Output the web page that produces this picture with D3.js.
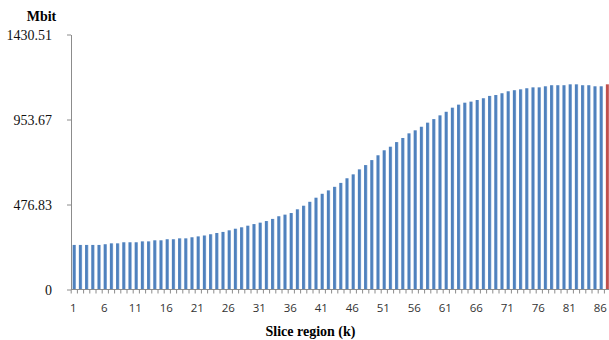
<!DOCTYPE html>
<html>
<head>
<meta charset="utf-8">
<script src="https://cdn.jsdelivr.net/npm/d3@7"></script>
<style>
  html, body { margin: 0; padding: 0; background: #fff; }
  svg { display: block; }
</style>
</head>
<body>
<svg id="chart" width="609" height="340"></svg>
<script>
// Slice regions 1..87 (the last one is highlighted)
const regions = d3.range(1, 88);

// Data volume per slice region, Mbit
const mbit = [
  250, 250, 250, 250, 250, 254, 259, 259, 265, 265,
  265, 270, 270, 276, 276, 282, 282, 287, 287, 293,
  298, 303, 310, 317, 323, 332, 341, 349, 358, 367,
  375, 384, 396, 411, 420, 429, 450, 470, 492, 515,
  537, 556, 576, 598, 624, 646, 674, 698, 726, 753,
  781, 801, 827, 850, 876, 893, 913, 936, 956, 977,
  997, 1020, 1037, 1048, 1054, 1063, 1073, 1086, 1091, 1101,
  1112, 1118, 1123, 1129, 1134, 1134, 1140, 1146, 1146, 1146,
  1151, 1151, 1146, 1146, 1140, 1140, 1151
];

const highlighted = [87];

const yTicks = [0, 476.83, 953.67, 1430.51];
const xTickLabels = [1, 6, 11, 16, 21, 26, 31, 36, 41, 46, 51, 56, 61, 66, 71, 76, 81, 86];

const yLabel = "Mbit";
const xLabel = "Slice region (k)";

const svg = d3.select("#chart");
const axisColor = "#8c8c8c";

const x = d3.scaleBand()
  .domain(regions)
  .range([71.2, 71.2 + 87 * 6.2])
  .paddingInner(0.47)
  .paddingOuter(0.235);

const y = d3.scaleLinear()
  .domain([0, 1430.51])
  .range([289.5, 34.5]);

// gradients to give bars a soft shaded look
const defs = svg.append("defs");
function barGradient(id, dark, light) {
  const g = defs.append("linearGradient").attr("id", id)
    .attr("x1", "0%").attr("x2", "100%").attr("y1", "0%").attr("y2", "0%");
  g.append("stop").attr("offset", "0%").attr("stop-color", dark);
  g.append("stop").attr("offset", "65%").attr("stop-color", dark);
  g.append("stop").attr("offset", "100%").attr("stop-color", light);
}
barGradient("gBlue", "#4f81bd", "#8fb0da");
barGradient("gRed", "#c0504d", "#d98b89");

// bars
svg.append("g")
  .selectAll("rect")
  .data(regions.map((r, i) => ({ r, v: mbit[i] })))
  .join("rect")
  .attr("x", d => x(d.r))
  .attr("width", x.bandwidth())
  .attr("y", d => y(d.v))
  .attr("height", d => y(0) - y(d.v))
  .attr("fill", d => highlighted.includes(d.r) ? "url(#gRed)" : "url(#gBlue)");

// y axis
const yAxis = svg.append("g")
  .attr("transform", "translate(71,0)")
  .call(d3.axisLeft(y).tickValues(yTicks).tickSize(4).tickSizeOuter(0)
    .tickFormat(d => d === 0 ? "0" : d3.format(".2f")(d)));
yAxis.select(".domain").attr("stroke", axisColor);
yAxis.selectAll(".tick line").attr("stroke", axisColor);
yAxis.selectAll(".tick text")
  .attr("x", -19)
  .attr("dy", "0.35em")
  .attr("fill", "#111")
  .style("font-family", "'Liberation Serif', 'Times New Roman', serif")
  .style("font-size", "14px");

// x axis with tick marks at every category boundary
const xAxisG = svg.append("g").attr("transform", "translate(0,289.5)");
xAxisG.append("line")
  .attr("x1", 71).attr("x2", 609)
  .attr("stroke", axisColor);
const bounds = regions.map(r => x(r) - x.step() * x.paddingInner() / 2);
xAxisG.selectAll("line.tk")
  .data(bounds)
  .join("line")
  .attr("class", "tk")
  .attr("x1", d => d).attr("x2", d => d)
  .attr("y1", 0).attr("y2", 4)
  .attr("stroke", axisColor);
xAxisG.selectAll("text")
  .data(xTickLabels)
  .join("text")
  .attr("x", d => x(d) + x.bandwidth() / 2 - 1)
  .attr("y", 22)
  .attr("text-anchor", "middle")
  .attr("fill", "#333")
  .style("font-family", "'Open Sans', sans-serif")
  .style("font-size", "11.5px")
  .text(d => d);

// axis titles
svg.append("text")
  .attr("x", 41.5).attr("y", 21)
  .attr("text-anchor", "middle")
  .attr("fill", "#000")
  .style("font-family", "'Liberation Serif', 'Times New Roman', serif")
  .style("font-weight", "bold")
  .style("font-size", "14px")
  .text(yLabel);

svg.append("text")
  .attr("x", 310.5).attr("y", 336)
  .attr("text-anchor", "middle")
  .attr("fill", "#000")
  .style("font-family", "'Liberation Serif', 'Times New Roman', serif")
  .style("font-weight", "bold")
  .style("font-size", "14px")
  .text(xLabel);
</script>
</body>
</html>
